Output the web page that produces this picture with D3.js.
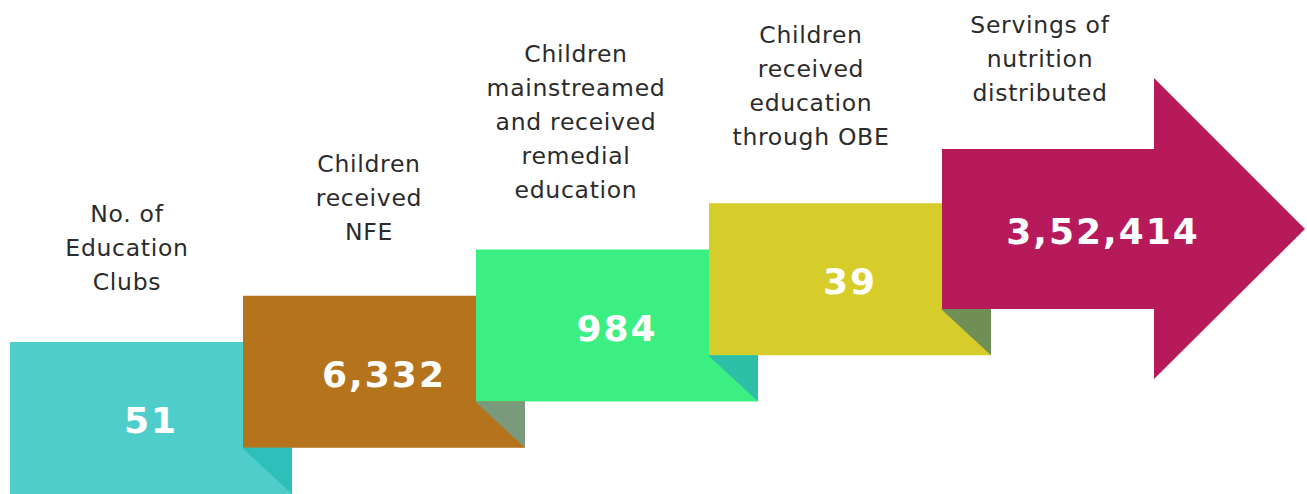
<!DOCTYPE html>
<html>
<head>
<meta charset="utf-8">
<script src="https://cdn.jsdelivr.net/npm/d3@7"></script>
<style>
  html, body { margin: 0; padding: 0; background: #ffffff; }
  svg { display: block; }
</style>
</head>
<body>
<svg id="chart" width="1307" height="494"></svg>
<script>
// ---- data ----
const categories = [
  ["No. of", "Education", "Clubs"],
  ["Children", "received", "NFE"],
  ["Children", "mainstreamed", "and received", "remedial", "education"],
  ["Children", "received", "education", "through OBE"],
  ["Servings of", "nutrition", "distributed"]
];
const values = [51, 6332, 984, 39, 352414];
const valueLabels = ["51", "6,332", "984", "39", "3,52,414"];

// ---- styles / layout ----
const fills = ["#4fcdcb", "#b5731b", "#3cef82", "#d6cd2b", "#b71a5b"];
const foldFills = ["#2ebfba", "#7a9a7c", "#2ebfa8", "#6f8f55"];
const labelDx = [117, 126, 100, 102, 98];
const labelGap = [52, 56, 52, 58, 48];

const svg = d3.select("#chart");
const idx = d3.range(values.length);

const xScale = d3.scaleLinear().domain([0, 4]).range([10, 942]);
const bottomScale = d3.scaleLinear().domain([0, 4]).range([494, 309]);
const boxW = 282, boxH = 152;
const foldW = 50;

// boxes 0..3
const boxes = idx.slice(0, 4).map(i => ({
  i,
  x: xScale(i),
  y: bottomScale(i) - boxH,
  w: boxW,
  h: boxH
}));

svg.selectAll("rect.box").data(boxes).join("rect")
  .attr("class", "box")
  .attr("x", d => d.x).attr("y", d => d.y)
  .attr("width", d => d.w).attr("height", d => d.h)
  .attr("fill", d => fills[d.i]);

// arrow
const aLeft = xScale(4), shaftBottom = bottomScale(4), shaftTop = shaftBottom - 160;
const headX = 1154, headTop = 78, headBottom = 379, tipX = 1305;
const tipY = (shaftTop + shaftBottom) / 2;
svg.append("path")
  .attr("d", d3.line()([
    [aLeft, shaftTop], [headX, shaftTop], [headX, headTop], [tipX, tipY],
    [headX, headBottom], [headX, shaftBottom], [aLeft, shaftBottom]
  ]) + "Z")
  .attr("fill", fills[4]);

// folds
svg.selectAll("path.fold").data(boxes).join("path")
  .attr("class", "fold")
  .attr("d", d => {
    const r = d.x + d.w;
    const nb = bottomScale(d.i + 1);
    const b = bottomScale(d.i);
    return d3.line()([[r - foldW, nb], [r, nb], [r, b]]) + "Z";
  })
  .attr("fill", d => foldFills[d.i]);

// values
const centers = idx.map(i => {
  if (i < 4) return { x: boxes[i].x + boxW / 2, y: boxes[i].y + boxH / 2 };
  return { x: 1103, y: tipY };
});
svg.selectAll("text.val").data(idx).join("text")
  .attr("class", "val")
  .attr("x", i => centers[i].x)
  .attr("y", i => centers[i].y + 15)
  .attr("text-anchor", "middle")
  .attr("font-family", "'DejaVu Sans', sans-serif")
  .attr("font-weight", "bold")
  .attr("font-size", 36)
  .attr("letter-spacing", 2)
  .attr("fill", "#ffffff")
  .text(i => valueLabels[i]);

// labels
const tops = idx.map(i => i < 4 ? boxes[i].y : shaftTop);
const lineH = 34;
const lab = svg.selectAll("text.lab").data(idx).join("text")
  .attr("class", "lab")
  .attr("text-anchor", "middle")
  .attr("font-family", "'DejaVu Sans', sans-serif")
  .attr("font-size", 23.5)
  .attr("letter-spacing", 0.7)
  .attr("fill", "#2b2b2b");
lab.each(function(i) {
  const lines = categories[i];
  const cx = xScale(i) + labelDx[i];
  const lastY = tops[i] - labelGap[i];
  d3.select(this).selectAll("tspan").data(lines).join("tspan")
    .attr("x", cx)
    .attr("y", (t, k) => lastY - (lines.length - 1 - k) * lineH)
    .text(t => t);
});
</script>
</body>
</html>
